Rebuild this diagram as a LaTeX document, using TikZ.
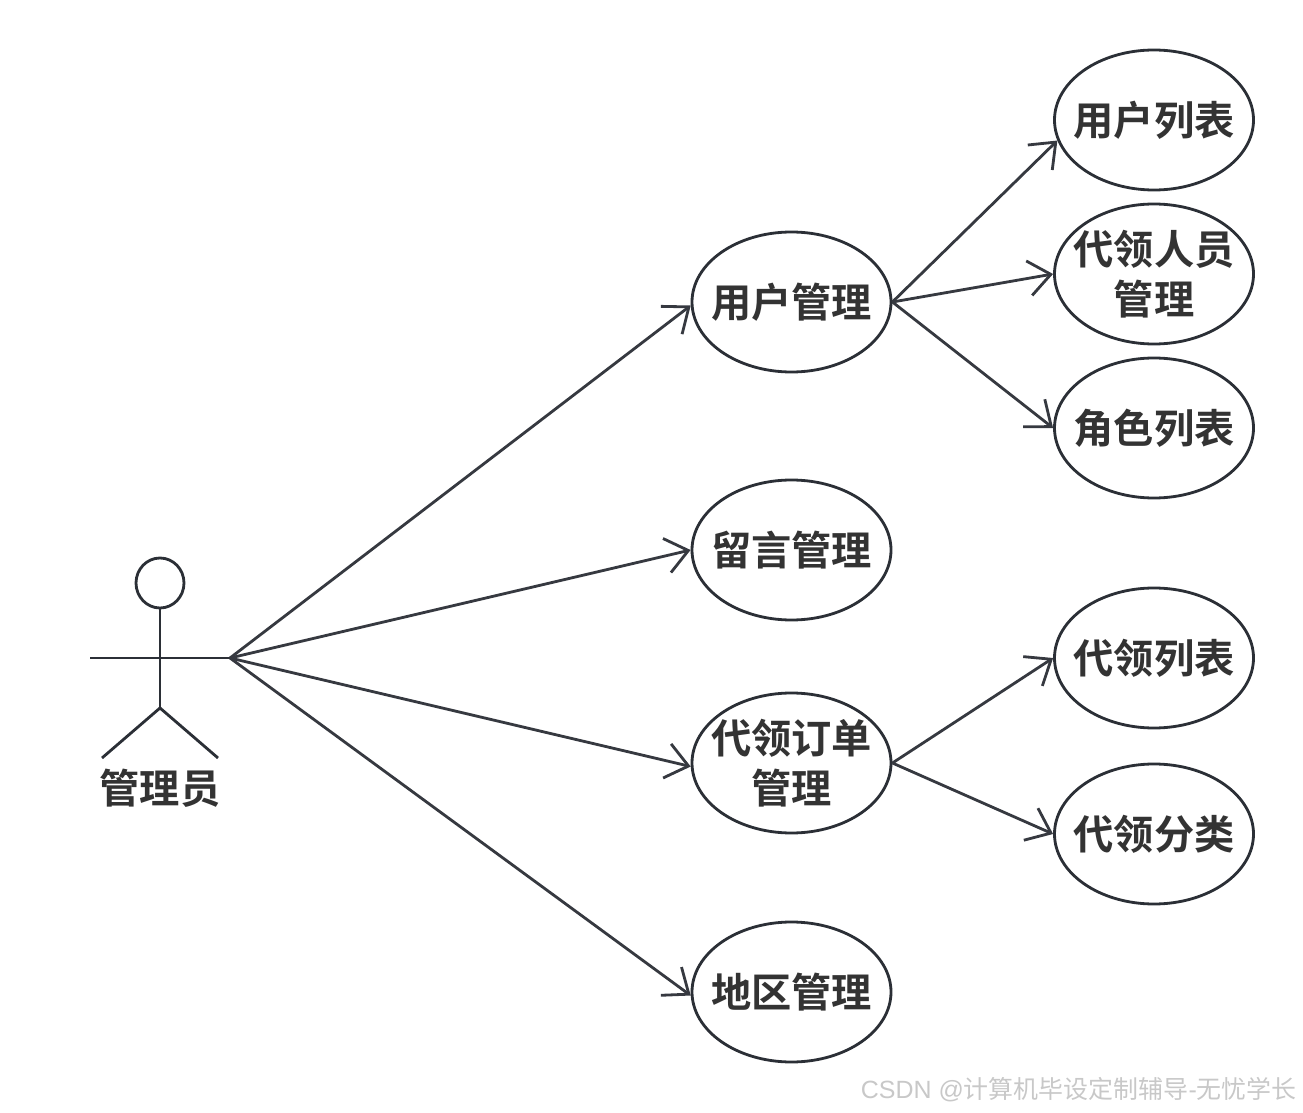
\documentclass[tikz,border=0pt]{standalone}
\usepackage{fontspec}
\setmainfont{Noto Sans CJK SC}[BoldFont={Noto Sans CJK SC Bold}]
\newfontfamily\markfont{Liberation Sans}
\usetikzlibrary{arrows.meta,shapes.geometric}
\definecolor{ucline}{RGB}{43,47,54}
\definecolor{uctext}{RGB}{51,51,51}
\definecolor{ucmark}{RGB}{200,200,200}

\begin{document}
\begin{tikzpicture}[
        usecase/.style={ellipse, draw=ucline, line width=1.6pt, minimum width=3.98cm, minimum height=2.80cm, inner xsep=-0.3cm, inner ysep=0pt, align=center, text=uctext, font=\fontsize{22.9}{28.4}\selectfont\bfseries},
        limb/.style={draw=ucline, line width=1.6pt},
        flow/.style={-{Straight Barb[length=4.4mm,width=7mm,line width=1.6pt]}, line width=1.6pt, draw=ucline!95!white}
      ]
      \useasboundingbox (0,0) rectangle (26.06,22.24);
      % actor
      \node[ellipse, draw=ucline, line width=1.6pt, minimum width=0.96cm, minimum height=1.00cm, inner sep=0pt] (head) at (3.20,10.58) {};
      \coordinate (lhand) at (1.80,9.08);
      \coordinate (rhand) at (4.60,9.08);
      \coordinate (hip) at (3.20,8.08);
      \coordinate (lfoot) at (2.04,7.08);
      \coordinate (rfoot) at (4.36,7.08);
      \draw[limb] (head.south) -- (hip);
      \draw[limb] (lhand) -- (rhand);
      \draw[limb] (lfoot) -- (hip) -- (rfoot);
      \node[text=uctext, font=\fontsize{22.9}{28.4}\selectfont\bfseries] (admin) at (3.20,6.48) {管理员};

      % first level
      \node[usecase] (user) at (15.83,16.20) {用户管理};
      \node[usecase] (msg) at (15.83,11.24) {留言管理};
      \node[usecase] (order) at (15.83,6.98) {代领订单\\管理};
      \node[usecase] (area) at (15.83,2.40) {地区管理};
      \draw[flow] (rhand) -- (user.182);
      \draw[flow] (rhand) -- (msg.west);
      \draw[flow] (rhand) -- (order.182);
      \draw[flow] (rhand) -- (area.182);

      % second level
      \node[usecase] (ulist) at (23.08,19.84) {用户列表};
      \node[usecase] (staff) at (23.08,16.76) {代领人员\\管理};
      \node[usecase] (role) at (23.08,13.68) {角色列表};
      \node[usecase] (olist) at (23.08,9.08) {代领列表};
      \node[usecase] (ocat) at (23.08,5.56) {代领分类};
      \draw[flow] (user.east) -- (ulist.192);
      \draw[flow] (user.east) -- (staff.west);
      \draw[flow] (user.east) -- (role.west);
      \draw[flow] (order.east) -- (olist.west);
      \draw[flow] (order.east) -- (ocat.west);

      \node[anchor=east, inner sep=0pt, text=ucmark, font=\fontsize{14.2}{16}\selectfont] (mark) at (25.94,0.44) {{\markfont CSDN @}计算机毕设定制辅导{\markfont -}无忧学长};
    \end{tikzpicture}
\end{document}
